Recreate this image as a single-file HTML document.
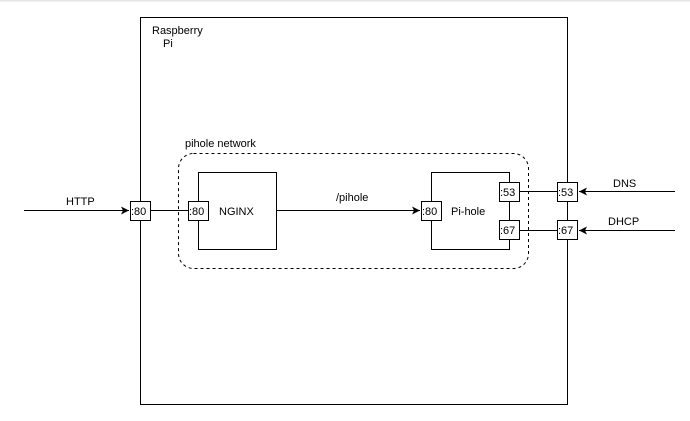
<!DOCTYPE html>
<html><head><meta charset="utf-8"><style>
html,body{margin:0;padding:0;background:#fff;}
svg{display:block;}
text{font-family:"Liberation Sans",Arial,sans-serif;font-size:11px;fill:#000;}
</style></head><body>
<svg width="690" height="421" viewBox="0 0 690 421" xmlns="http://www.w3.org/2000/svg">
<defs>
<marker id="a" markerWidth="10" markerHeight="10" refX="8" refY="5" orient="auto" markerUnits="userSpaceOnUse">
<path d="M0,1 L8,5 L0,9 L2,5 Z" fill="#000"/>
</marker>
</defs>
<rect x="0" y="0" width="690" height="1.5" fill="#e3e6ea"/>
<rect x="140.5" y="17.5" width="427" height="387" fill="none" stroke="#000" stroke-width="1"/>
<text x="152" y="34">Raspberry</text>
<text x="163" y="47">Pi</text>
<rect x="178.5" y="153.5" width="350" height="115" rx="15" fill="none" stroke="#000" stroke-dasharray="3,3"/>
<text x="185" y="147">pihole network</text>
<!-- HTTP -->
<line x1="24" y1="210.5" x2="129" y2="210.5" stroke="#000" marker-end="url(#a)"/>
<text x="66" y="205">HTTP</text>
<rect x="130.5" y="201.5" width="20" height="19" fill="#fff" stroke="#000"/>
<text x="131" y="215">:80</text>
<line x1="150.5" y1="210.5" x2="188" y2="210.5" stroke="#000"/>
<!-- NGINX -->
<rect x="198.5" y="172.5" width="78" height="77" fill="#fff" stroke="#000"/>
<rect x="188.5" y="201.5" width="20" height="19" fill="#fff" stroke="#000"/>
<text x="189" y="215">:80</text>
<text x="219" y="215">NGINX</text>
<line x1="276.5" y1="210.5" x2="420" y2="210.5" stroke="#000" marker-end="url(#a)"/>
<text x="336" y="201">/pihole</text>
<!-- Pi-hole -->
<rect x="431.5" y="172.5" width="78" height="77" fill="#fff" stroke="#000"/>
<rect x="421.5" y="201.5" width="20" height="19" fill="#fff" stroke="#000"/>
<text x="422" y="215">:80</text>
<text x="451" y="215">Pi-hole</text>
<rect x="499.5" y="182.5" width="20" height="19" fill="#fff" stroke="#000"/>
<text x="500" y="196">:53</text>
<rect x="499.5" y="220.5" width="20" height="19" fill="#fff" stroke="#000"/>
<text x="500" y="234">:67</text>
<line x1="519.5" y1="191.5" x2="557" y2="191.5" stroke="#000"/>
<line x1="519.5" y1="230.5" x2="557" y2="230.5" stroke="#000"/>
<rect x="557.5" y="182.5" width="20" height="19" fill="#fff" stroke="#000"/>
<text x="558" y="196">:53</text>
<rect x="557.5" y="220.5" width="20" height="19" fill="#fff" stroke="#000"/>
<text x="558" y="234">:67</text>
<line x1="675" y1="191.5" x2="579" y2="191.5" stroke="#000" marker-end="url(#a)"/>
<line x1="675" y1="230.5" x2="579" y2="230.5" stroke="#000" marker-end="url(#a)"/>
<text x="613" y="187">DNS</text>
<text x="608" y="225">DHCP</text>
</svg>
</body></html>
